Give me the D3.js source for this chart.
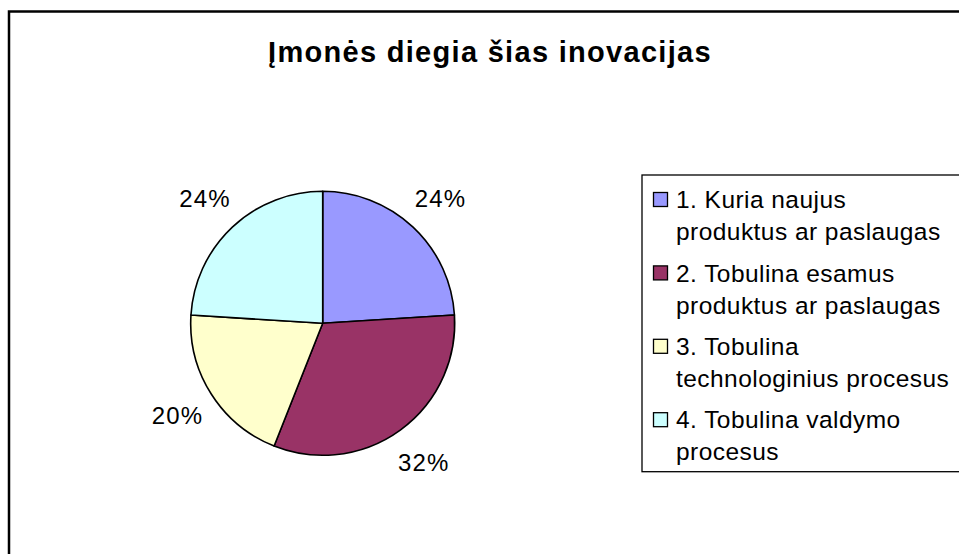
<!DOCTYPE html>
<html>
<head>
<meta charset="utf-8">
<script src="https://cdn.jsdelivr.net/npm/d3@7/dist/d3.min.js"></script>
<style>
  html, body { margin: 0; padding: 0; background: #fff; }
  svg { display: block; font-family: Arial, "Liberation Sans", sans-serif; }
</style>
</head>
<body>
<script>
const title = "Įmonės diegia šias inovacijas";
const categories = [
  ["1. Kuria naujus", "produktus ar paslaugas"],
  ["2. Tobulina esamus", "produktus ar paslaugas"],
  ["3. Tobulina", "technologinius procesus"],
  ["4. Tobulina valdymo", "procesus"]
];
const values = [24, 32, 20, 24];
const colors = ["#9999FF", "#993366", "#FFFFCC", "#CCFFFF"];

const W = 959, H = 554;
const svg = d3.select("body").append("svg").attr("width", W).attr("height", H);

// outer chart frame (extends past the window on the right and bottom)
svg.append("rect")
  .attr("x", 9).attr("y", 11.5).attr("width", 1000).attr("height", 1000)
  .attr("fill", "#fff").attr("stroke", "#000").attr("stroke-width", 2.5);

// title
svg.append("text")
  .attr("x", 490).attr("y", 62)
  .attr("text-anchor", "middle")
  .attr("font-size", 29).attr("font-weight", "bold")
  .attr("letter-spacing", 1.3)
  .attr("fill", "#000")
  .text(title);

// pie
const cx = 322.7, cy = 323.3, R = 132;
const pie = d3.pie().sort(null).value(d => d)(values);
const arc = d3.arc().innerRadius(0).outerRadius(R);
const labelArc = d3.arc().innerRadius(172).outerRadius(172);
const g = svg.append("g").attr("transform", `translate(${cx},${cy})`);
g.selectAll("path").data(pie).join("path")
  .attr("d", arc)
  .attr("fill", (d, i) => colors[i])
  .attr("stroke", "#000").attr("stroke-width", 1.6).attr("stroke-linejoin", "round");

const total = d3.sum(values);
g.selectAll("text.lbl").data(pie).join("text")
  .attr("class", "lbl")
  .attr("transform", d => { const c = labelArc.centroid(d); return `translate(${c[0]},${c[1]})`; })
  .attr("text-anchor", "middle")
  .attr("dy", "0.36em")
  .attr("font-size", 24)
  .attr("letter-spacing", 1.2)
  .attr("fill", "#000")
  .text(d => Math.round(d.data / total * 100) + "%");

// legend
const lg = svg.append("g");
lg.append("rect")
  .attr("x", 642).attr("y", 175).attr("width", 400).attr("height", 296.7)
  .attr("fill", "#fff").attr("stroke", "#000").attr("stroke-width", 1.3);

const item = lg.selectAll("g.item").data(categories).join("g")
  .attr("class", "item")
  .attr("transform", (d, i) => `translate(0,${i * 73.4})`);
item.append("rect")
  .attr("x", 653.5).attr("y", 192.5).attr("width", 14).attr("height", 14)
  .attr("fill", (d, i) => colors[i])
  .attr("stroke", "#000").attr("stroke-width", 1.3);
item.each(function(d) {
  d3.select(this).selectAll("text").data(d).join("text")
    .attr("x", 676).attr("y", (t, j) => 208.3 + j * 32)
    .attr("font-size", 24.5)
    .attr("letter-spacing", 0.45)
    .attr("fill", "#000")
    .text(t => t);
});
</script>
</body>
</html>
